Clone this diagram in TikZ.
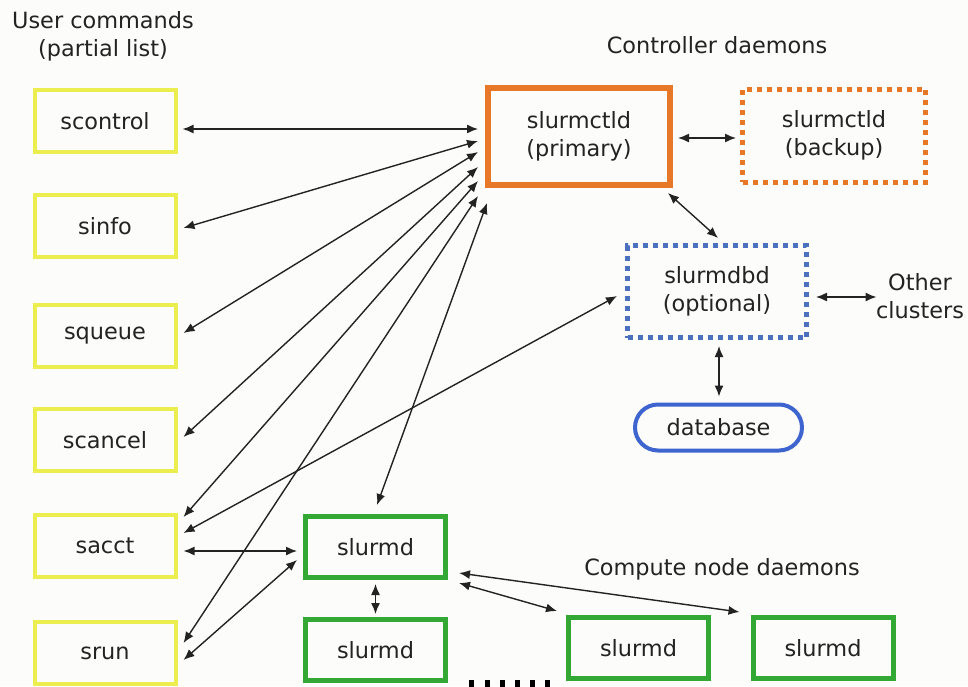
\documentclass[tikz,border=0pt]{standalone}
\usepackage{fontspec}
\setmainfont{DejaVu Sans}
\usepackage{tikz}
\usetikzlibrary{arrows.meta,calc}
\definecolor{bgwhite}{RGB}{252,252,250}
\definecolor{txtgray}{RGB}{35,35,35}
\definecolor{cmdyellow}{RGB}{236,238,80}
\definecolor{ctldorange}{RGB}{230,120,40}
\definecolor{dbdblue}{RGB}{75,112,190}
\definecolor{dbblue}{RGB}{62,100,208}
\definecolor{nodegreen}{RGB}{52,168,52}

\begin{document}
\begin{tikzpicture}[x=0.5pt,y=-0.5pt,
    every node/.style={font=\fontsize{11.2}{14}\selectfont,text=txtgray},
    cmdbox/.style={draw=cmdyellow,line width=2pt,minimum width=70.5pt,minimum height=31pt},
    ctldbox/.style={draw=ctldorange,line width=3pt,minimum width=91pt,minimum height=48.5pt,align=center},
    backupbox/.style={draw=ctldorange,line width=2.5pt,dash pattern=on 2.5pt off 2.5pt,minimum width=91.5pt,minimum height=46.5pt,align=center},
    dbdbox/.style={draw=dbdblue,line width=2.5pt,dash pattern=on 2.5pt off 2.5pt,minimum width=89.5pt,minimum height=46pt,align=center},
    dbbox/.style={draw=dbblue,line width=2pt,rounded corners=11.5pt,minimum width=83.5pt,minimum height=23pt},
    slurmdbox/.style={draw=nodegreen,line width=2.5pt,minimum width=70pt,minimum height=30.5pt},
    lbl/.style={align=center},
    link/.style={<->,line width=0.7pt,draw=txtgray,>={Latex[length=5.5pt,width=4.5pt]}}]
    \useasboundingbox (0,0) rectangle (968,686);
    \clip (0,0) rectangle (968,686);
    \fill[bgwhite] (0,0) rectangle (968,686);

    % headings
    \node[lbl] (usercmd) at (103,36) {User commands\\(partial list)};
    \node[lbl] (ctrlhead) at (717,45) {Controller daemons};
    \node[lbl] (comphead) at (722,569) {Compute node daemons};
    \node[lbl] (other) at (920,296) {Other\\clusters};

    % user commands
    \foreach \nm/\yy in {scontrol/121,sinfo/226,squeue/336,scancel/440,sacct/546,srun/653}
        \node[cmdbox] (\nm) at (105,\yy) {\nm};

    % controller daemons
    \node[ctldbox] (ctld) at (579,136.5) {slurmctld\\(primary)};
    \node[backupbox] (backup) at (834,135.5) {slurmctld\\(backup)};
    \node[dbdbox] (dbd) at (717,291.5) {slurmdbd\\(optional)};
    \node[dbbox] (db) at (718.5,427.5) {database};

    % compute node daemons
    \node[slurmdbox] (slurmdA) at (375.5,547) {slurmd};
    \node[slurmdbox] (slurmdB) at (375.5,650) {slurmd};
    \node[slurmdbox] (slurmdC) at (638.5,648) {slurmd};
    \node[slurmdbox] (slurmdD) at (823,648) {slurmd};
    \foreach \x in {471,487,502,517,532,547} \fill[black] (\x-2.5,680) rectangle (\x+2.5,692);

    % commands to slurmctld
    \draw[link] ($(scontrol.east)+(5,8)$) -- ($(ctld.west)+(-7,-7.5)$);
    \draw[link] ($(sinfo.east)+(6,2)$) -- ($(ctld.west)+(-7,4.5)$);
    \draw[link] ($(squeue.east)+(6,-3)$) -- ($(ctld.west)+(-7,15.5)$);
    \draw[link] ($(scancel.east)+(6,-3)$) -- ($(ctld.west)+(-7,30.5)$);
    \draw[link] ($(sacct.east)+(6,-29)$) -- ($(ctld.west)+(-7,44.5)$);
    \draw[link] ($(srun.east)+(6,-10)$) -- ($(ctld.west)+(-7,59.5)$);
    \draw[link] ($(slurmdA.north)+(1.5,-9)$) -- ($(ctld.south west)+(2,15)$);

    % other links
    \draw[link] ($(sacct.east)+(6,-13)$) -- ($(dbd.west)+(-8,4.5)$);
    \draw[link] ($(sacct.east)+(6,5)$) -- ($(slurmdA.west)+(-6,4)$);
    \draw[link] ($(srun.east)+(6,7)$) -- ($(slurmdA.west)+(-6,13)$);
    \draw[link] ($(ctld.east)+(5,1.5)$) -- ($(backup.west)+(-4,2.5)$);
    \draw[link] ($(ctld.south east)+(-5,5)$) -- ($(dbd.north)+(1,-5)$);
    \draw[link] ($(dbd.east)+(7,5.5)$) -- ($(other.west)+(7.5,1)$);
    \draw[link] ($(dbd.south)+(2,6)$) -- ($(db.north)+(0.5,-6)$);
    \draw[link] ($(slurmdA.south)+(0,4)$) -- ($(slurmdB.north)+(0,-3)$);
    \draw[link] ($(slurmdA.east)+(11,26)$) -- ($(slurmdD.north west)+(-11,-3)$);
    \draw[link] ($(slurmdA.east)+(11,36)$) -- ($(slurmdC.north west)+(-9,-4)$);
\end{tikzpicture}
\end{document}
